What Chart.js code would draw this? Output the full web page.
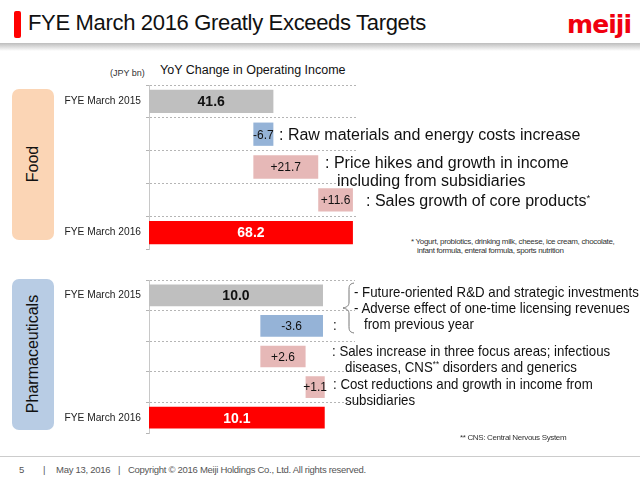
<!DOCTYPE html>
<html>
<head>
<meta charset="utf-8">
<title>FYE March 2016 Greatly Exceeds Targets</title>
<script src="https://cdn.jsdelivr.net/npm/chart.js@4/dist/chart.umd.min.js"></script>
<style>
  html, body { margin: 0; padding: 0; background: #fff; }
  body { position: relative; width: 640px; height: 480px; overflow: hidden; font-family: "Liberation Sans", Arial, sans-serif; color: #111; }
  .abs { position: absolute; white-space: nowrap; line-height: 1; }
  canvas { position: absolute; }
  sup { font-size: 60%; line-height: 0; vertical-align: 5px; }
  .big { font-size: 16px; }
  .mid { font-size: 15px; transform: scaleX(0.885); transform-origin: left top; }
  .note { font-size: 8px; letter-spacing: -0.34px; color: #333; }
  .foot { font-size: 9.5px; letter-spacing: -0.28px; color: #555; }
</style>
</head>
<body>
  <div class="abs" style="left:0;top:43px;width:640px;height:8px;background:linear-gradient(#bdbdbd,#fff)"></div>
  <div class="abs" style="left:14px;top:11px;width:7px;height:27px;background:#f00;border-radius:2px"></div>
  <div class="abs" style="left:28px;top:12px;font-size:22px;letter-spacing:-0.33px">FYE March 2016 Greatly Exceeds Targets</div>
  <div class="abs" style="left:567px;top:10px;font:bold 25px 'DejaVu Sans';letter-spacing:-0.9px;color:#f0000f">meiji</div>

  <div class="abs" style="left:110px;top:69px;font-size:9px;color:#333">(JPY bn)</div>
  <div class="abs" style="left:160px;top:64px;font-size:12.5px">YoY Change in Operating Income</div>

  <div class="abs" style="left:12px;top:89px;width:42px;height:151px;background:#fbd5b5;border-radius:7px"></div>
  <div class="abs" style="left:33px;top:164px;font-size:16px;transform:translate(-50%,-50%) rotate(-90deg)">Food</div>
  <div class="abs" style="left:12px;top:279px;width:42px;height:151px;background:#b8cce4;border-radius:7px"></div>
  <div class="abs" style="left:33px;top:354px;font-size:16px;transform:translate(-50%,-50%) rotate(-90deg)">Pharmaceuticals</div>

  <canvas id="foodChart" width="320" height="170" style="left:60px;top:83px"></canvas>
  <canvas id="pharmaChart" width="320" height="158" style="left:60px;top:278px"></canvas>

  <div class="abs big" style="left:279px;top:127px">: Raw materials and energy costs increase</div>
  <div class="abs big" style="left:325px;top:155px">: Price hikes and growth in income</div>
  <div class="abs big" style="left:337px;top:173px">including from subsidiaries</div>
  <div class="abs big" style="left:366px;top:193px">: Sales growth of core products<sup>*</sup></div>
  <div class="abs note" style="left:411px;top:238px">* Yogurt, probiotics, drinking milk, cheese, ice cream, chocolate,</div>
  <div class="abs note" style="left:417px;top:247px">infant formula, enteral formula, sports nutrition</div>

  <svg class="abs" style="left:340px;top:282px" width="20" height="52">
    <path d="M14 1 C9 2 9 4 9 9 L9 20 C9 24 7 25 3 26 C7 27 9 28 9 32 L9 43 C9 48 9 50 14 51" fill="none" stroke="#777" stroke-width="1"/>
  </svg>
  <div class="abs mid" style="left:333px;top:317px">:</div>
  <div class="abs mid" style="left:354px;top:284px">- Future-oriented R&amp;D and strategic investments</div>
  <div class="abs mid" style="left:354px;top:300px">- Adverse effect of one-time licensing revenues</div>
  <div class="abs mid" style="left:364px;top:316px">from previous year</div>
  <div class="abs mid" style="left:332px;top:343px">: Sales increase in three focus areas; infectious</div>
  <div class="abs mid" style="left:345px;top:359px">diseases, CNS<sup>**</sup> disorders and generics</div>
  <div class="abs mid" style="left:333px;top:376px">: Cost reductions and growth in income from</div>
  <div class="abs mid" style="left:345px;top:392px">subsidiaries</div>
  <div class="abs note" style="left:460px;top:434px">** CNS: Central Nervous System</div>

  <div class="abs" style="left:0;top:456px;width:640px;height:1px;background:#ccc"></div>
  <div class="abs foot" style="left:19px;top:465px">5</div>
  <div class="abs foot" style="left:43px;top:465px">|</div>
  <div class="abs foot" style="left:56px;top:465px">May 13, 2016</div>
  <div class="abs foot" style="left:118px;top:465px">|</div>
  <div class="abs foot" style="left:128px;top:465px">Copyright © 2016 Meiji Holdings Co., Ltd. All rights reserved.</div>

<script>
  const categories = ["FYE March 2015", "", "", "", "FYE March 2016"];

  // floating bars: where each step starts and ends (JPY bn)
  const foodStart = [0, 34.9, 34.9, 56.6, 0];
  const foodEnd = [41.6, 41.6, 56.6, 68.2, 68.2];
  const foodLabels = ["41.6", "-6.7", "+21.7", "+11.6", "68.2"];

  const pharmaStart = [0, 6.4, 6.4, 9.0, 0];
  const pharmaEnd = [10.0, 10.0, 9.0, 10.1, 10.1];
  const pharmaLabels = ["10.0", "-3.6", "+2.6", "+1.1", "10.1"];

  const barColors = ["#bfbfbf", "#95b3d7", "#e6b8b7", "#e6b8b7", "#ff0000"];
  const labelColors = ["#111", "#111", "#111", "#111", "#fff"];
  const FONT = '"Liberation Sans", Arial, sans-serif';

  // writes the value text in the middle of each bar
  const barText = {
    id: "barText",
    afterDatasetsDraw(chart, args, opts) {
      const ctx = chart.ctx;
      ctx.save();
      ctx.textAlign = "center";
      ctx.textBaseline = "middle";
      chart.getDatasetMeta(0).data.forEach((bar, i) => {
        const total = i === 0 || i === 4;
        ctx.font = (total ? "bold 14px " : "12px ") + FONT;
        ctx.fillStyle = labelColors[i];
        ctx.fillText(opts.labels[i], (bar.x + bar.base) / 2, bar.y + 1);
      });
      ctx.restore();
    }
  };

  function makeChart(id, starts, ends, labels, xMax, pad) {
    new Chart(document.getElementById(id).getContext("2d"), {
      type: "bar",
      data: {
        labels: categories,
        datasets: [{
          data: starts.map((s, i) => [s, ends[i]]),
          backgroundColor: barColors,
          barPercentage: 0.71,
          categoryPercentage: 1
        }]
      },
      options: {
        indexAxis: "y",
        responsive: false,
        animation: false,
        devicePixelRatio: 1,
        layout: { padding: pad },
        plugins: {
          legend: { display: false },
          tooltip: { enabled: false },
          barText: { labels: labels }
        },
        scales: {
          x: { display: false, min: 0, max: xMax },
          y: {
            // keep the plot area where the slide has it
            afterFit(s) { s.width = 89; s.paddingTop = 0; s.paddingBottom = 0; },
            grid: {
              offset: true,
              tickLength: 3,
              color: (c) => (c.tick ? "#b5b5b5" : "transparent"),
              tickColor: "#b5b5b5"
            },
            border: { display: true, color: "#c8c8c8", dash: [2, 2] },
            ticks: {
              autoSkip: false,
              padding: 5,
              color: "#222",
              font: { family: FONT, size: 10.2 }
            }
          }
        }
      },
      plugins: [barText]
    });
  }

  makeChart("foodChart", foodStart, foodEnd, foodLabels, 69.9, { top: 2, right: 22, bottom: 4, left: 0 });
  makeChart("pharmaChart", pharmaStart, pharmaEnd, pharmaLabels, 11.84, { top: 2, right: 25, bottom: 3, left: 0 });
</script>
</body>
</html>
